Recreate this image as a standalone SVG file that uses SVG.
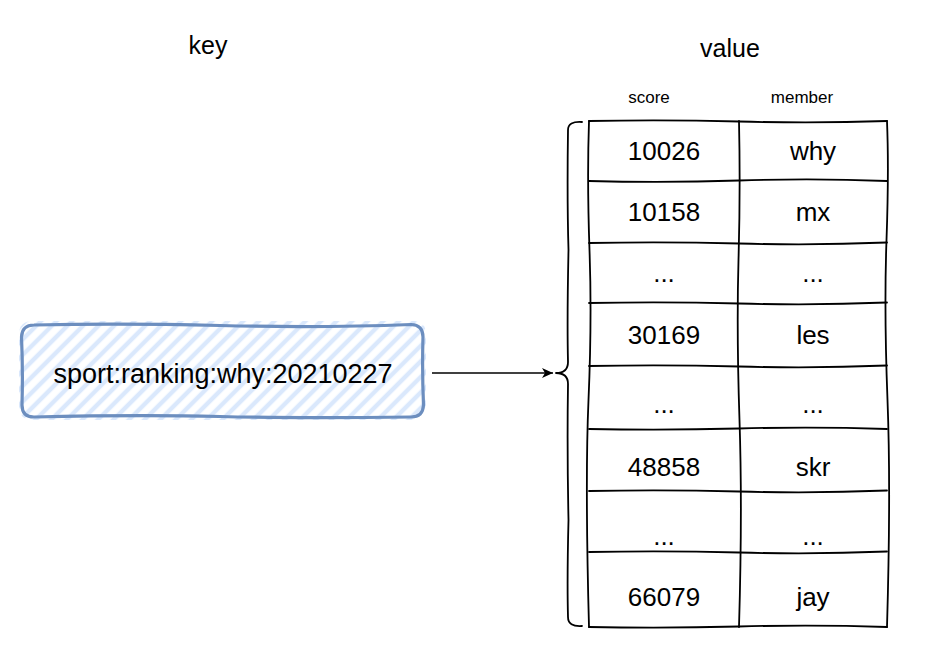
<svg xmlns="http://www.w3.org/2000/svg" width="934" height="661" viewBox="0 0 934 661">
<style>
text{font-family:"Liberation Sans",Arial,sans-serif;fill:#000;text-anchor:middle}
.title{font-size:25px}
.hdr{font-size:17px}
.cell{font-size:26px}
.keytxt{font-size:27px}
.ink{fill:none;stroke:#000;stroke-width:1.8;stroke-linecap:round;stroke-linejoin:round}
</style>
<defs>
<pattern id="hatch" patternUnits="userSpaceOnUse" width="11" height="11" patternTransform="rotate(45)">
<line x1="3" y1="0" x2="3" y2="11" stroke="#dae8fc" stroke-width="4.5"/>
</pattern>
<marker id="arr" markerWidth="12" markerHeight="10" refX="11" refY="5" orient="auto" markerUnits="userSpaceOnUse">
<path d="M0,0 L11,5 L0,10 L3,5 Z" fill="#000"/>
</marker>
<clipPath id="keyclip"><rect x="19" y="321" width="407" height="99" rx="12"/></clipPath>
</defs>
<rect width="934" height="661" fill="#fff"/>

<g id="titles">
<text class="title" x="208" y="54">key</text>
<text class="title" x="730" y="57">value</text>
<text class="hdr" x="649" y="103">score</text>
<text class="hdr" x="802" y="103">member</text>
</g>

<g id="key-node">
<rect x="19" y="321" width="407" height="99" fill="url(#hatch)" clip-path="url(#keyclip)"/>
<path d="M34,325 Q120,323 220,325.5 T411,324.5 Q423,325 423,337 Q422,370 423.5,405 Q423,417 411,417 Q300,418.5 220,416.5 T34,417 Q22,417 22,405 Q23,370 21.5,337 Q22,325 34,325 Z" fill="none" stroke="#6c8ebf" stroke-width="3.2"/>
<text class="keytxt" x="223" y="383">sport:ranking:why:20210227</text>
</g>

<g id="connectors">
<line x1="432" y1="373" x2="553" y2="373" stroke="#000" stroke-width="1.4" marker-end="url(#arr)"/>
<path class="ink" d="M582,122 Q568,121 568,130 Q567,200 568.5,250 Q567,320 568,362 Q568,373 556,373 Q568,373 568,384 Q567,450 568.5,520 Q567,580 568,617 Q568,627 582,626"/>
</g>

<g id="table">
<path class="ink" d="M589,121 Q664,119.5 739,121.5 T887,121"/>
<path class="ink" d="M589,181 Q664,183 739,180.5 T887,181"/>
<path class="ink" d="M589,243 Q664,241.5 739,243.5 T887,242.5"/>
<path class="ink" d="M589,303 Q664,301.5 739,303.5 T887,302.5"/>
<path class="ink" d="M589,366 Q664,364.5 739,366.5 T887,365.5"/>
<path class="ink" d="M589,429 Q664,430.5 739,428.5 T887,429"/>
<path class="ink" d="M589,491 Q664,489.5 739,491.5 T887,490.5"/>
<path class="ink" d="M589,552 Q664,550.5 739,552.5 T887,551.5"/>
<path class="ink" d="M589,627 Q664,628.5 739,626.5 T887,627"/>
<path class="ink" d="M589,121 Q587,180 589.5,250 T588.5,400 T589,627"/>
<path class="ink" d="M739,121 Q740.5,190 738.5,260 T739.5,420 T739,627"/>
<path class="ink" d="M887,121 Q889,170 886.5,240 T887.5,400 T887,627"/>
<text class="cell" x="664" y="160">10026</text><text class="cell" x="813" y="160">why</text>
<text class="cell" x="664" y="221">10158</text><text class="cell" x="813" y="221">mx</text>
<text class="cell" x="664" y="282">...</text><text class="cell" x="813" y="282">...</text>
<text class="cell" x="664" y="344">30169</text><text class="cell" x="813" y="344">les</text>
<text class="cell" x="664" y="413">...</text><text class="cell" x="813" y="413">...</text>
<text class="cell" x="664" y="476">48858</text><text class="cell" x="813" y="476">skr</text>
<text class="cell" x="664" y="545">...</text><text class="cell" x="813" y="545">...</text>
<text class="cell" x="664" y="606">66079</text><text class="cell" x="813" y="606">jay</text>
</g>
</svg>
